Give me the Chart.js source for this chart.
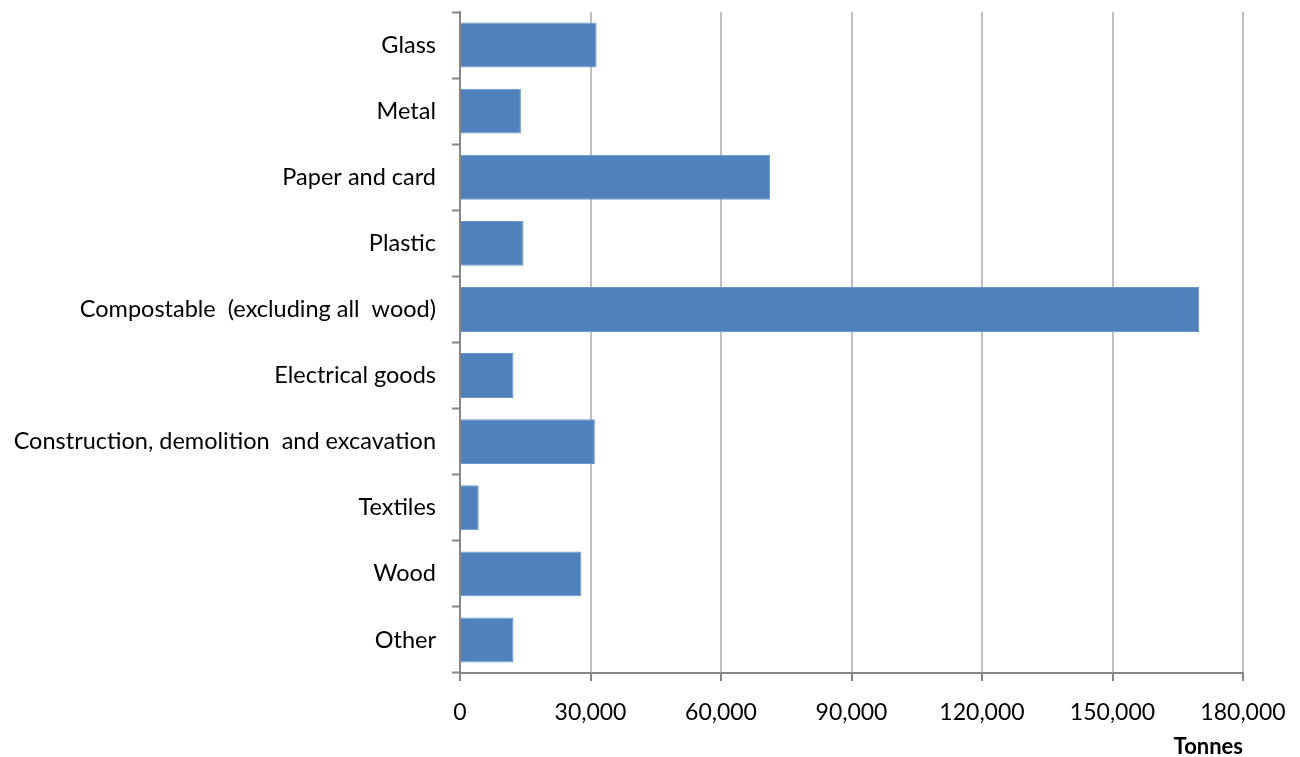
<!DOCTYPE html>
<html>
<head>
<meta charset="utf-8">
<script src="https://cdn.jsdelivr.net/npm/chart.js@4"></script>
<style>
  html, body { margin: 0; padding: 0; background: #ffffff; }
  #wrap { width: 1300px; height: 757px; }
</style>
</head>
<body>
<div id="wrap"><canvas id="chart" width="1300" height="757"></canvas></div>
<script>
const categorias = [
  'Glass',
  'Metal',
  'Paper and card',
  'Plastic',
  'Compostable  (excluding all  wood)',
  'Electrical goods',
  'Construction, demolition  and excavation',
  'Textiles',
  'Wood',
  'Other'
];

const toneladas = [31400, 14000, 71300, 14600, 169900, 12300, 31000, 4300, 27900, 12300];

const ticksX = [0, 30000, 60000, 90000, 120000, 150000, 180000];

const fonte = "Lato, 'Open Sans', sans-serif";

const ctx = document.getElementById('chart');

new Chart(ctx, {
  type: 'bar',
  data: {
    labels: categorias,
    datasets: [
      {
        label: 'Tonnes',
        data: toneladas,
        backgroundColor: '#4f81bd',
        borderColor: '#6d97ca',
        borderWidth: 1,
        categoryPercentage: 1,
        barPercentage: 0.68
      }
    ]
  },
  options: {
    indexAxis: 'y',
    responsive: false,
    animation: false,
    layout: {
      padding: { left: 0, right: 57, top: 12, bottom: 0 }
    },
    plugins: {
      legend: { display: false },
      tooltip: { enabled: false }
    },
    scales: {
      x: {
        min: 0,
        max: 180000,
        afterBuildTicks: (scale) => {
          scale.ticks = ticksX.map(v => ({ value: v }));
        },
        afterFit: (scale) => {
          scale.height = 84;
          scale.paddingLeft = 0;
          scale.paddingRight = 0;
        },
        grid: {
          color: '#bfbfbf',
          lineWidth: 2,
          tickLength: 8,
          tickColor: '#868686',
          tickWidth: 2
        },
        border: { color: '#868686', width: 2 },
        ticks: {
          color: '#000000',
          padding: 18,
          maxRotation: 0,
          font: { family: fonte, size: 23 },
          callback: (value) => Number(value).toLocaleString('en-US')
        },
        title: {
          display: true,
          text: 'Tonnes',
          align: 'end',
          color: '#000000',
          padding: { top: 3, bottom: -3 },
          font: { family: fonte, size: 22, weight: 'bold' }
        }
      },
      y: {
        afterFit: (scale) => {
          scale.width = 460;
          scale.paddingTop = 0;
          scale.paddingBottom = 0;
        },
        grid: {
          drawOnChartArea: false,
          tickLength: 8,
          tickColor: '#868686',
          tickWidth: 2
        },
        border: { color: '#868686', width: 2 },
        ticks: {
          color: '#000000',
          padding: 16,
          autoSkip: false,
          font: { family: fonte, size: 23.5 }
        }
      }
    }
  }
});
</script>
</body>
</html>
